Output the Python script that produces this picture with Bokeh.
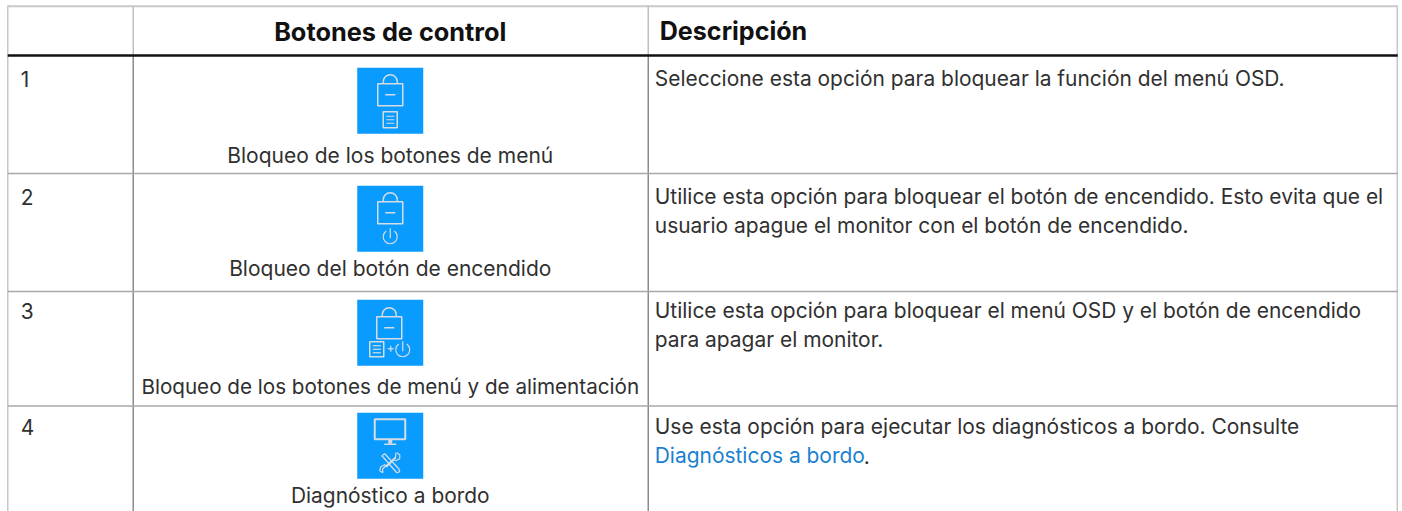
from bokeh.plotting import figure
from bokeh.embed import file_html
from bokeh.resources import INLINE
from bokeh.models import Range1d
from bokeh.core.properties import value

W, H = 1402, 511
row_numbers = ["1", "2", "3", "4"]
button_labels = ["Bloqueo de los botones de menú", "Bloqueo del botón de encendido",
                 "Bloqueo de los botones de menú y de alimentación", "Diagnóstico a bordo"]
descriptions = [
    ["Seleccione esta opción para bloquear la función del menú OSD."],
    ["Utilice esta opción para bloquear el botón de encendido. Esto evita que el",
     "usuario apague el monitor con el botón de encendido."],
    ["Utilice esta opción para bloquear el menú OSD y el botón de encendido",
     "para apagar el monitor."],
    ["Use esta opción para ejecutar los diagnósticos a bordo. Consulte"],
]
link_text = "Diagnósticos a bordo"
headers = ["Botones de control", "Descripción"]

FONT = "Inter"
OFF = 0.75
p = figure(width=W, height=H, x_range=Range1d(OFF, W+OFF), y_range=Range1d(H+OFF, OFF),
           output_backend="svg", toolbar_location=None, min_border=0,
           x_axis_location=None, y_axis_location=None, outline_line_color=None,
           background_fill_color="white", border_fill_color="white")
p.grid.visible = False

def seg(x0, y0, x1, y1, c, w=1.5):
    p.line([x0, x1], [y0, y1], line_color=c, line_width=w)

seg(8, 6.5, 1398, 6.5, "#c8c8c8", 2)
seg(8, 6, 8, 513, "#c8c8c8", 1.5)
seg(1397.5, 6, 1397.5, 513, "#c8c8c8", 1.5)
seg(133.5, 6, 133.5, 55, "#c0c0c0", 1.5)
seg(648.5, 6, 648.5, 55, "#c0c0c0", 1.5)
seg(133.5, 55, 133.5, 513, "#8c8c8c", 1.5)
seg(648.5, 55, 648.5, 513, "#8c8c8c", 1.5)
for y in [173.75, 291.75, 406.25]:
    seg(8, y, 1398, y, "#a8a8a8", 1.5)
seg(8, 55.75, 1398, 55.75, "#111111", 2.5)

def txt(x, y, s, size=20.95, color="#303030", align="left", weight="normal"):
    p.text([x], [y], text=[s], text_font=value(FONT), text_font_size=f"{size}px",
           text_color=color, text_align=align, text_baseline="middle", text_font_style=weight)

txt(390.5, 31.5, headers[0], 25.3, "#111111", "center", "bold")
txt(660, 31.5, headers[1], 25.1, "#111111", "left", "bold")

ROW_Y = [79, 197, 311, 427]
for n, y in zip(row_numbers, ROW_Y):
    txt(21, y, n)
for s, y, size in zip(button_labels, [155.5, 269, 387, 496], [21, 21, 20.65, 20.9]):
    txt(390.5, y, s, size, align="center")
for lines, y in zip(descriptions, ROW_Y):
    for i, s in enumerate(lines):
        txt(655, y + i*29, s)
txt(655, 456, link_text, 20.95, "#1a7fd0")
txt(864, 456, ".")

BLUE = "#0a9bff"
IC = "#d6dde2"
for t in [68, 186, 300, 413]:
    p.quad(left=[357.5], right=[423.5], top=[t], bottom=[t+66], fill_color=BLUE, line_color=None)

def lock(cx, top):
    p.quad(left=[cx-12.5], right=[cx+12.5], top=[top+9], bottom=[top+31],
           fill_color=None, line_color=IC, line_width=1.5)
    p.arc(x=[cx], y=[top+7], radius=[7], start_angle=[0], end_angle=[3.1416],
          direction="anticlock", line_color=IC, line_width=1.5)
    p.line([cx-7, cx-7], [top+7, top+9], line_color=IC, line_width=1.5)
    p.line([cx+7, cx+7], [top+7, top+9], line_color=IC, line_width=1.5)
    p.line([cx-5, cx+5], [top+20, top+20], line_color=IC, line_width=1.5)

def doc(cx, cy, w=14, h=16):
    p.quad(left=[cx-w/2], right=[cx+w/2], top=[cy-h/2], bottom=[cy+h/2],
           fill_color=None, line_color=IC, line_width=1.5)
    for dy in (-3.5, 0, 3.5):
        p.line([cx-w/2+3, cx+w/2-3], [cy+dy, cy+dy], line_color=IC, line_width=1.2)

def power(cx, cy, r=7):
    p.arc(x=[cx], y=[cy], radius=[r], start_angle=[2.18], end_angle=[0.96],
          direction="anticlock", line_color=IC, line_width=1.2)
    p.line([cx, cx], [cy-r-1.5, cy+1.5], line_color=IC, line_width=1.2)

lock(390.5, 75)
doc(390.5, 120)
lock(390.5, 193)
power(390.5, 237)
lock(389.5, 308)
doc(377, 349.5, 14, 15)
p.line([388, 394], [349, 349], line_color=IC, line_width=1.2)
p.line([391, 391], [346, 352], line_color=IC, line_width=1.2)
power(403, 350)

p.quad(left=[375], right=[405.5], top=[419.5], bottom=[439.5],
       fill_color=None, line_color=IC, line_width=2)
p.quad(left=[388.5], right=[392.5], top=[440], bottom=[444], fill_color=IC, line_color=None)
p.line([384.5, 396.5], [444.5, 444.5], line_color=IC, line_width=1.5)
p.line([397, 400, 400, 396, 393, 383, 383, 380, 381, 385, 387, 396],
       [453, 455, 459, 461, 460, 469, 473, 471, 467, 465, 467, 458],
       line_color=IC, line_width=1.2)
p.line([396, 396, 393], [453, 457, 460], line_color=IC, line_width=1.2)
p.line([382, 385, 399, 400, 397, 384, 382],
       [456, 454, 469, 472, 473, 458, 456],
       line_color=IC, line_width=1.2)

open("out.html", "w").write(file_html(p, INLINE))
